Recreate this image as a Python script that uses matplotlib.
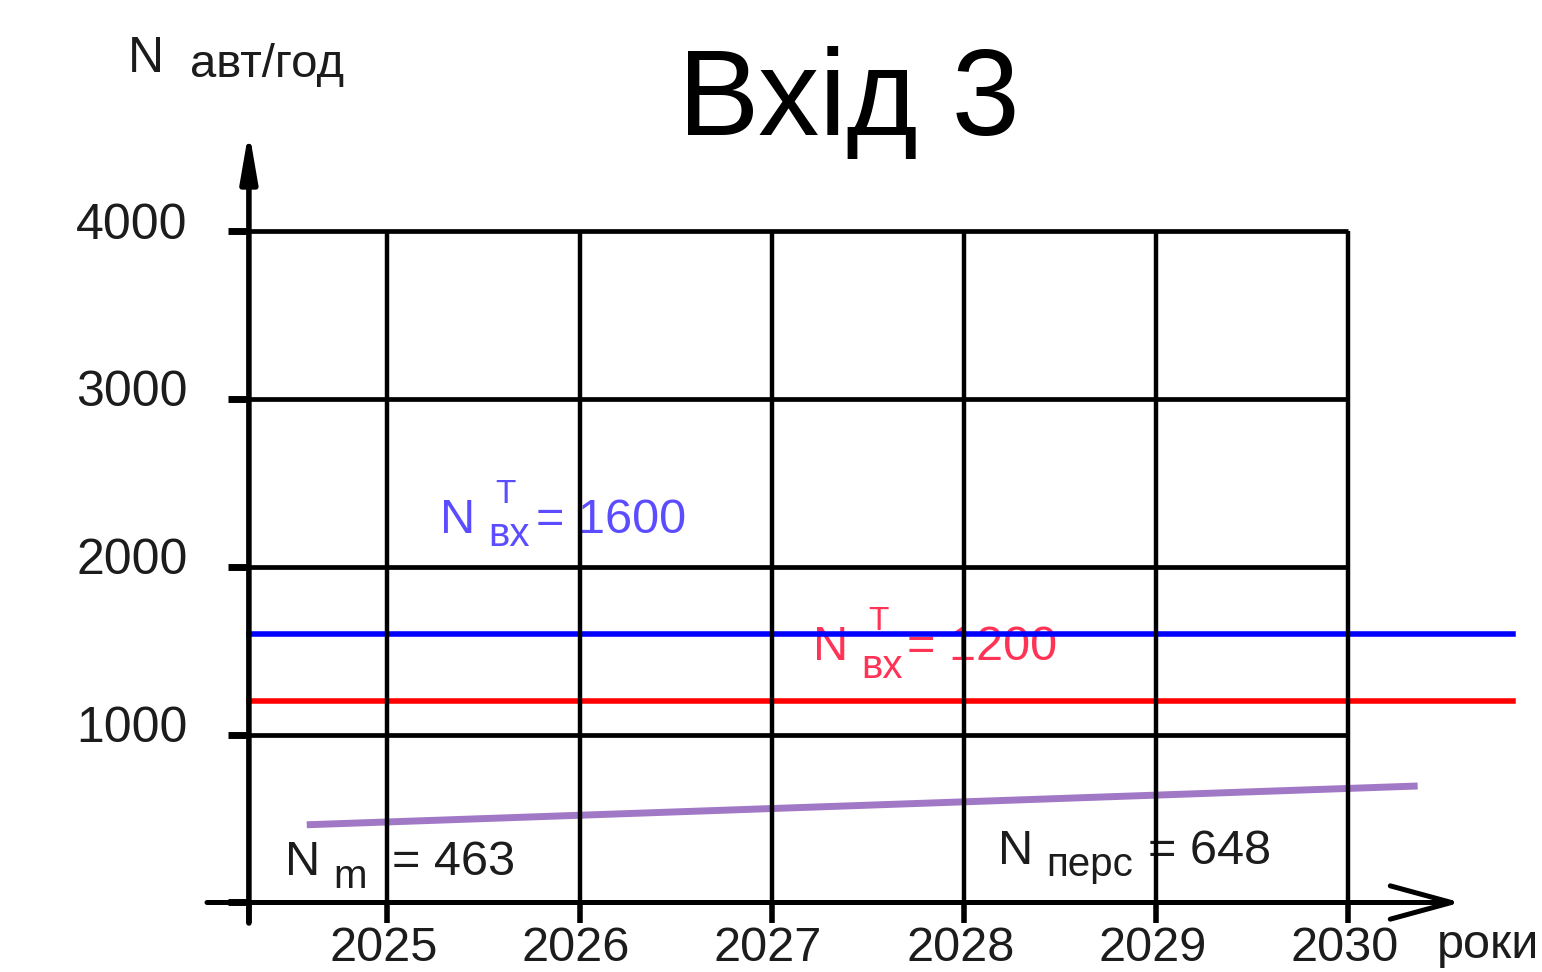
import matplotlib
matplotlib.use('Agg')
import matplotlib.pyplot as plt

# --- data -------------------------------------------------------------
YEARS = [2025, 2026, 2027, 2028, 2029, 2030]
Y_TICKS = [1000, 2000, 3000, 4000]

N_VX_BLUE = 1600          # N вх T (blue)
N_VX_RED = 1200           # N вх T (red)
N_M = 463                 # N m
N_PERS = 648              # N перс

# growth line (purple)
GROWTH_X = [2024.58, 2030.36]
GROWTH_Y = [463, 694]

TITLE = 'Вхід 3'
Y_NAME = 'N'
Y_UNIT = 'авт/год'
X_NAME = 'роки'

# --- styling ----------------------------------------------------------
FONT = 'Liberation Sans'
TXT = '#1c1c1c'
BLUE_TXT = '#5b4dff'
RED_TXT = '#ff3355'
PURPLE = '#9060bb'

AXIS_X0 = 2024.279      # where the vertical axis sits
X_END = 2030.856        # right end of the blue/red lines

plt.rcParams['font.family'] = [FONT, 'DejaVu Sans']

fig = plt.figure(figsize=(15.42, 9.72), dpi=100, facecolor='white')
ax = fig.add_axes([0, 0, 1, 1])
ax.set_xlim(2022.984, 2031.007)
ax.set_ylim(-414, 5376)
ax.axis('off')

# grid
ax.hlines(Y_TICKS, AXIS_X0, YEARS[-1], color='black', lw=3.4, zorder=3)
ax.vlines(YEARS, 0, Y_TICKS[-1], color='black', lw=3.2, zorder=3)

# tick stubs
ax.hlines([0] + Y_TICKS, 2024.170, AXIS_X0, color='black', lw=5, zorder=4)
ax.vlines([AXIS_X0] + YEARS, -122, 0, color='black', lw=4, zorder=4)

# axes with arrows
ax.annotate('', xy=(AXIS_X0, 4600), xytext=(AXIS_X0, -122),
            arrowprops=dict(arrowstyle='-|>,head_length=2.9,head_width=0.5',
                            lw=4, color='black', shrinkA=0, shrinkB=0),
            zorder=4)
ax.annotate('', xy=(2030.585, 0), xytext=(2024.061, 0),
            arrowprops=dict(arrowstyle='->,head_length=4.4,head_width=1.2',
                            lw=3.6, color='black', shrinkA=0, shrinkB=0),
            zorder=4)

# level lines
ax.plot([AXIS_X0, X_END], [N_VX_BLUE, N_VX_BLUE], color='#0000ff', lw=4, zorder=2)
ax.plot([AXIS_X0, X_END], [N_VX_RED, N_VX_RED], color='#ff0000', lw=4, zorder=2)
ax.plot(GROWTH_X, GROWTH_Y, color=PURPLE, lw=5, alpha=0.85,
        solid_capstyle='butt', zorder=2)

# tick labels
for v in Y_TICKS:
    ax.text(2023.96, v - 45, str(v), fontsize=36, color=TXT,
            ha='right', va='baseline', zorder=1)
for yr in YEARS:
    ax.text(yr - 0.02, -348, str(yr), fontsize=35, color=TXT,
            ha='center', va='baseline', zorder=1)

# axis names
ax.text(2023.650, 4947, Y_NAME, fontsize=36, color=TXT, ha='left', va='baseline')
ax.text(2023.972, 4918, Y_UNIT, fontsize=34, color=TXT, ha='left', va='baseline')
ax.text(2030.46, -330, X_NAME, fontsize=35, color=TXT, ha='left', va='baseline')

# title
ax.text(2027.401, 4572, TITLE, fontsize=88, color='black',
        ha='center', va='baseline')


def label(x, y, sub, value, color, sup=None, sub_dx=0.25, sub_dy=-75,
          sup_dx=0.29, sup_dy=180, eq_dx=0.50):
    ax.text(x, y, 'N', fontsize=35, color=color, ha='left', va='baseline', zorder=1)
    ax.text(x + sub_dx, y + sub_dy, sub, fontsize=29, color=color,
            ha='left', va='baseline', zorder=1)
    if sup:
        ax.text(x + sup_dx, y + sup_dy, sup, fontsize=24, color=color,
                ha='left', va='baseline', zorder=1)
    ax.text(x + eq_dx, y, f'= {value}', fontsize=35, color=color,
            ha='left', va='baseline', zorder=1)


label(2025.273, 2201, 'вх', N_VX_BLUE, BLUE_TXT, sup='Т')
label(2027.214, 1445, 'вх', N_VX_RED, RED_TXT, sup='Т', sub_dy=-108,
      sup_dy=178, eq_dx=0.489)
label(2024.467, 164, 'm', N_M, TXT, sub_dy=-78, eq_dx=0.556)
label(2028.176, 229, 'перс', N_PERS, TXT, sub_dy=-71, eq_dx=0.781)

plt.savefig('out.png', dpi=100, facecolor='white')
plt.close()
